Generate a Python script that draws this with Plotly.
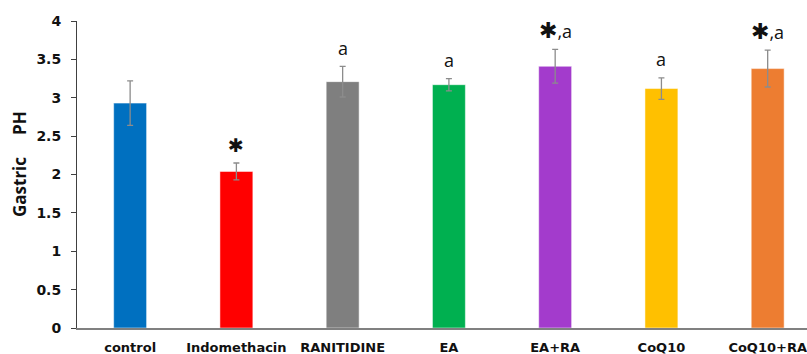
import plotly.graph_objects as go

categories = ["control", "Indomethacin", "RANITIDINE", "EA", "EA+RA", "CoQ10", "CoQ10+RA"]
values = [2.93, 2.04, 3.21, 3.17, 3.41, 3.12, 3.38]
errors = [0.29, 0.11, 0.20, 0.08, 0.22, 0.14, 0.24]
colors = ["#0070C0", "#FF0000", "#7F7F7F", "#00B050", "#A33BCC", "#FFC000", "#ED7D31"]
sig_star = [False, True, False, False, True, False, True]
sig_a = [False, False, True, True, True, True, True]
yticks = [0, 0.5, 1, 1.5, 2, 2.5, 3, 3.5, 4]
ytick_text = ["0", "0.5", "1", "1.5", "2", "2.5", "3", "3.5", "4"]
y_title = "Gastric &nbsp;&nbsp;&nbsp; PH"

fig = go.Figure()
fig.add_trace(go.Bar(
    x=list(range(len(categories))), y=values,
    marker=dict(color=colors, line=dict(color="rgba(255,255,255,0.5)", width=1)),
    width=0.31,
    error_y=dict(type="data", array=errors, visible=True, color="#8C8C8C", thickness=1.3, width=3),
    showlegend=False,
))

annotations = []
for i, (v, e) in enumerate(zip(values, errors)):
    top = v + e
    if sig_star[i] and sig_a[i]:
        annotations.append(dict(x=i, y=top + 0.06, xref="x", yref="y", yanchor="bottom",
                                text="<span style='font-size:22px;font-family:DejaVu Sans'>✱</span>,a",
                                showarrow=False, font=dict(size=18, color="#111", family="Open Sans")))
    elif sig_star[i]:
        annotations.append(dict(x=i, y=top + 0.06, xref="x", yref="y", yanchor="bottom",
                                text="✱", showarrow=False,
                                font=dict(size=19, color="#111", family="DejaVu Sans")))
    elif sig_a[i]:
        annotations.append(dict(x=i, y=top + 0.06, xref="x", yref="y", yanchor="bottom",
                                text="a", showarrow=False,
                                font=dict(size=18, color="#111", family="Open Sans")))

annotations.append(dict(x=-0.0795, y=0.534, xref="paper", yref="paper", textangle=-90,
                        xanchor="center", yanchor="middle", showarrow=False, text=y_title,
                        font=dict(family="Open Sans", size=17, color="#111", weight="bold")))

fig.update_layout(
    width=807, height=354,
    margin=dict(l=77, r=0, t=21, b=26),
    plot_bgcolor="white", paper_bgcolor="white",
    annotations=annotations,
    xaxis=dict(
        range=[-0.5, 6.37], tickmode="array", tickvals=list(range(len(categories))),
        ticktext=categories, showline=True, linecolor="#808080", linewidth=1.5,
        ticks="", showgrid=False, zeroline=False, automargin=False,
        ticklabelstandoff=7,
        tickfont=dict(family="DejaVu Sans", size=13, color="#111", weight="bold"),
    ),
    yaxis=dict(
        range=[0, 4], tickmode="array", tickvals=yticks, ticktext=ytick_text,
        showline=True, linecolor="#404040", linewidth=1, ticks="outside", ticklen=5,
        tickcolor="#404040", showgrid=False, zeroline=False, automargin=False,
        ticklabelstandoff=7,
        tickfont=dict(family="DejaVu Sans", size=14, color="#111", weight="bold"),
    ),
)
fig.write_html("out.html", config={"displayModeBar": False},
               post_script="document.body.style.margin='0';document.body.style.overflow='hidden';")
